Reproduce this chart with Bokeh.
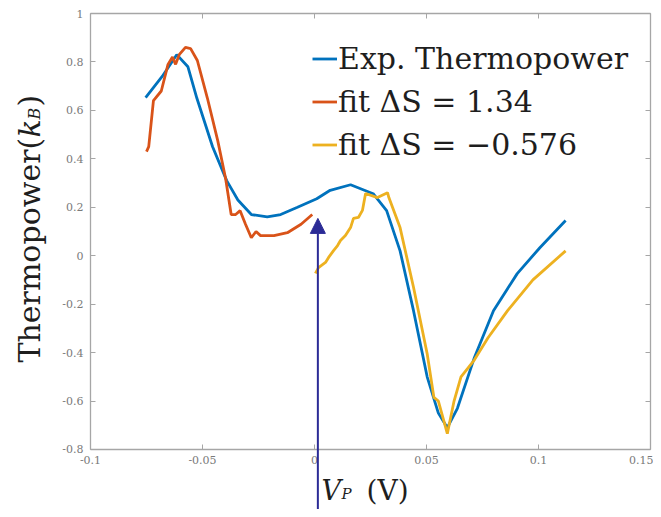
import math
from bokeh.plotting import figure
from bokeh.models import (FixedTicker, LinearAxis, Legend, LegendItem, Label,
                          Arrow, NormalHead, Range1d)
from bokeh.embed import file_html
from bokeh.resources import INLINE

# ---------------- data ----------------
exp_x = [-0.0754, -0.068, -0.0615, -0.0565, -0.0525, -0.0455, -0.0392, -0.0342, -0.0282,
         -0.0211, -0.0151, -0.0076, 0.001, 0.007, 0.0161, 0.0262, 0.0322, 0.0382, 0.0442,
         0.0503, 0.0553, 0.0593, 0.0638, 0.0714, 0.0799, 0.0905, 0.1006, 0.1121]
exp_y = [0.653, 0.74, 0.83, 0.78, 0.65, 0.45, 0.31, 0.23, 0.17,
         0.16, 0.17, 0.20, 0.235, 0.27, 0.293, 0.256, 0.186, 0.02, -0.227,
         -0.50, -0.65, -0.71, -0.63, -0.42, -0.227, -0.074, 0.033, 0.145]

fit1_x = [-0.075, -0.074, -0.0719, -0.0684, -0.0654, -0.0634, -0.062, -0.0604, -0.0576,
          -0.0553, -0.0523, -0.0478, -0.0432, -0.0397, -0.0372, -0.0352, -0.0332, -0.0308,
          -0.0282, -0.0261, -0.0241, -0.0181, -0.0121, -0.006, -0.001]
fit1_y = [0.43, 0.45, 0.64, 0.68, 0.79, 0.82, 0.79, 0.83, 0.86,
          0.855, 0.806, 0.65, 0.475, 0.32, 0.17, 0.17, 0.186, 0.13,
          0.074, 0.10, 0.083, 0.083, 0.095, 0.13, 0.17]

fit2_x = [0.0004, 0.0018, 0.0049, 0.0063, 0.0085, 0.0103, 0.0116, 0.0138, 0.0161,
          0.0174, 0.0196, 0.0214, 0.0228, 0.0281, 0.0326, 0.0332,
          0.0382, 0.0442, 0.0503, 0.0533, 0.0553, 0.0593, 0.0623, 0.0654, 0.0714, 0.0774,
          0.0862, 0.0975, 0.1121]
fit2_y = [-0.073, -0.049, -0.028, -0.007, 0.021, 0.042, 0.063, 0.083, 0.116,
          0.154, 0.158, 0.187, 0.257, 0.24, 0.26, 0.24,
          0.116, -0.13, -0.405, -0.585, -0.60, -0.735, -0.60, -0.50, -0.43, -0.34,
          -0.227, -0.10, 0.02]

x_ticks = [-0.1, -0.05, 0, 0.05, 0.1, 0.15]
x_tick_labels = ["-0.1", "-0.05", "0", "0.05", "0.1", "0.15"]
y_ticks = [-0.8, -0.6, -0.4, -0.2, 0, 0.2, 0.4, 0.6, 0.8, 1]
y_tick_labels = ["-0.8", "-0.6", "-0.4", "-0.2", "0", "0.2", "0.4", "0.6", "0.8", "1"]

legend_labels = ["Exp. Thermopower", "fit \u0394S = 1.34", "fit \u0394S = \u22120.576"]

x_lim = (-0.1, 0.15)
y_lim = (-0.8, 1.0)

arrow_x = 0.0015
arrow_y0 = -1.2
arrow_y1 = 0.154

# ---------------- layout (canvas pixels) ----------------
W, H = 653, 509
X0, SX = 314.0, 2240.0    # canvas x of data 0, px per data unit
Y0, SY = 255.2, 242.2     # canvas y of data 0, px per data unit


def dx(px):
    return (px - X0) / SX


def dy(py):
    return (Y0 - py) / SY


BLUE = "#0072BD"
RED = "#D95319"
YEL = "#EDB120"
NAVY = "#2b2b96"
AX = "#a6a6a6"
TXT = "#7a7a7a"
FONT = "DejaVu Serif"

p = figure(width=W, height=H, output_backend="svg", toolbar_location=None,
           x_range=Range1d(dx(0), dx(W)), y_range=Range1d(dy(H), dy(0)),
           x_axis_location=None, y_axis_location=None,
           min_border=0, min_border_left=0, min_border_right=0,
           min_border_top=0, min_border_bottom=0)
p.background_fill_color = "white"
p.border_fill_color = "white"
p.outline_line_color = None
p.xgrid.visible = False
p.ygrid.visible = False

r1 = p.line(exp_x, exp_y, line_color=BLUE, line_width=2.8)
r2 = p.line(fit1_x, fit1_y, line_color=RED, line_width=2.8)
r3 = p.line(fit2_x, fit2_y, line_color=YEL, line_width=2.8)


def make_axis(ticks, labels, loc, bounds, show_labels=True):
    ax = LinearAxis(fixed_location=loc, bounds=bounds)
    ax.ticker = FixedTicker(ticks=ticks)
    ax.major_label_overrides = {t: l for t, l in zip(ticks, labels)}
    ax.axis_line_color = AX
    ax.axis_line_width = 1.3
    ax.major_tick_line_color = AX
    ax.major_tick_in = 5
    ax.major_tick_out = 0
    ax.minor_tick_line_color = None
    ax.major_label_text_font = FONT
    ax.major_label_text_font_size = "11px"
    ax.major_label_text_color = TXT if show_labels else None
    return ax


xb = make_axis(x_ticks, x_tick_labels, y_lim[0], x_lim)
xb.major_label_standoff = 7
p.add_layout(xb, "below")
yl = make_axis(y_ticks, y_tick_labels, x_lim[0], y_lim)
yl.major_label_standoff = 7
p.add_layout(yl, "left")
xt = make_axis(x_ticks, x_tick_labels, y_lim[1], x_lim, show_labels=False)
p.add_layout(xt, "above")
yr = make_axis(y_ticks, y_tick_labels, x_lim[1], y_lim, show_labels=False)
p.add_layout(yr, "right")

# legend
legend = Legend(items=[LegendItem(label=legend_labels[0], renderers=[r1]),
                       LegendItem(label=legend_labels[1], renderers=[r2]),
                       LegendItem(label=legend_labels[2], renderers=[r3])],
                location=(312, 344))
legend.label_text_font = FONT
legend.label_text_font_size = "30px"
legend.label_text_color = "#1e1e1e"
legend.glyph_width = 25
legend.glyph_height = 41
legend.label_height = 41
legend.label_standoff = 1
legend.spacing = 2
legend.padding = 10
legend.margin = 0
legend.border_line_color = None
legend.background_fill_alpha = 0
p.add_layout(legend)

lab = dict(text_font=FONT, text_color="#1e1e1e", text_baseline="alphabetic",
           text_align="left")
# x axis title: V_P (V)
p.add_layout(Label(x=dx(321), y=dy(490), text="V", text_font_size="27px",
                   text_font_style="italic", **lab))
p.add_layout(Label(x=dx(341), y=dy(493), text="P", text_font_size="15px",
                   text_font_style="italic", **lab))
p.add_layout(Label(x=dx(366), y=dy(490), text="(V)", text_font_size="28px", **lab))

# y axis title: Thermopower(k_B)
rot = math.pi / 2
p.add_layout(Label(x=dx(29), y=dy(362), text="Thermopower(", text_font_size="30px",
                   angle=rot, **lab))
p.add_layout(Label(x=dx(29), y=dy(137), text="k", text_font_size="30px",
                   text_font_style="italic", angle=rot, **lab))
p.add_layout(Label(x=dx(34), y=dy(119), text="B", text_font_size="16px",
                   text_font_style="italic", angle=rot, **lab))
p.add_layout(Label(x=dx(29), y=dy(106), text=")", text_font_size="30px",
                   angle=rot, **lab))

# arrow annotation
p.add_layout(Arrow(end=NormalHead(size=15, fill_color=NAVY, line_color=NAVY),
                   x_start=arrow_x, y_start=arrow_y0, x_end=arrow_x, y_end=arrow_y1,
                   line_color=NAVY, line_width=2))

open("out.html", "w").write(file_html(p, INLINE))
